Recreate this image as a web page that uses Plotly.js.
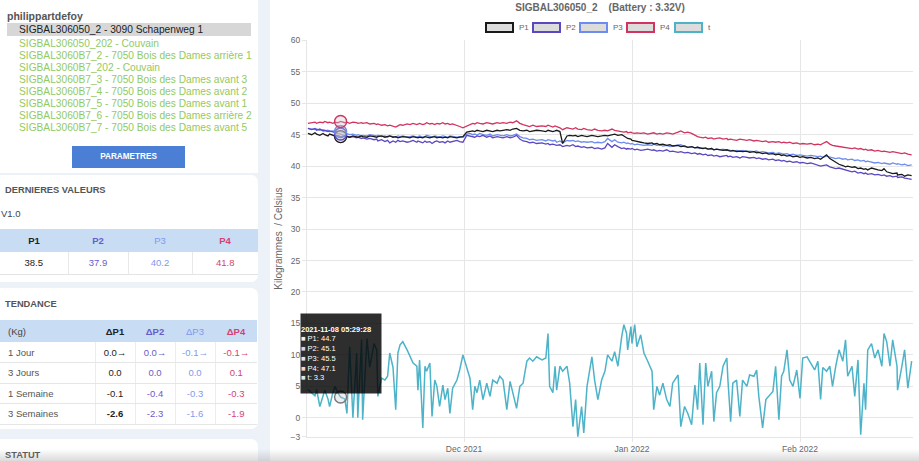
<!DOCTYPE html>
<html><head><meta charset="utf-8">
<script src="https://cdn.plot.ly/plotly-3.0.1.min.js"></script>
<style>
*{box-sizing:border-box}
body{margin:0;width:919px;height:461px;overflow:hidden;background:#edf2f9;font-family:"Liberation Sans",Arial,sans-serif;position:relative;color:#444}
.abs{position:absolute}
.card{position:absolute;left:0;width:258px;background:#fff;border-radius:0 7px 7px 0}
.user{left:7px;top:10px;font-size:10.5px;font-weight:bold;color:#555;line-height:13px}
.sel{left:7px;top:23px;width:244px;height:13px;background:#d7d7d7;font-size:10.2px;line-height:13px;padding-left:12px;color:#222;white-space:nowrap}
.list{left:19px;top:37.5px;font-size:10.2px;line-height:12.05px;color:#92ca62;white-space:nowrap}
.btn{left:72px;top:146px;width:113px;height:22px;background:#4b7fd6;color:#fff;font-size:8.2px;font-weight:bold;text-align:center;line-height:22px}
.h{left:5px;font-size:9.3px;font-weight:bold;color:#555;line-height:12px}
table{position:absolute;left:0;border-collapse:collapse;font-size:9.5px;table-layout:fixed}
td{padding:0;text-align:center;white-space:nowrap}
.hd td{background:#c8dcf4}
.vr td{border-right:1px solid #e8e8e8;border-bottom:1px solid #e4e4e4}
.vr td:last-child{border-right:none}
.tr td{border-bottom:1px solid #e6e6e6;border-right:1px solid #ececec}
.tr td:last-child{border-right:none}
.lbl{text-align:left;padding-left:8px;color:#555}
.c1{color:#222}.c2{color:#6a5cc8}.c3{color:#8299ec}.c4{color:#d63f74}
.b{font-weight:bold}
#chart{position:absolute;left:270px;top:0;width:649px;height:461px;background:#fff}
.shade{position:absolute;left:0;top:449px;width:919px;height:12px;background:linear-gradient(rgba(150,150,150,0),rgba(150,150,150,0.35));pointer-events:none}
</style></head><body>

<div class="card" style="top:0;height:173px;border-radius:0">
  <div class="abs user">philippartdefoy</div>
  <div class="abs sel">SIGBAL306050_2 - 3090 Schapenweg 1</div>
  <div class="abs list">
    SIGBAL306050_202 - Couvain<br>
    SIGBAL3060B7_2 - 7050 Bois des Dames arrière 1<br>
    SIGBAL3060B7_202 - Couvain<br>
    SIGBAL3060B7_3 - 7050 Bois des Dames avant 3<br>
    SIGBAL3060B7_4 - 7050 Bois des Dames avant 2<br>
    SIGBAL3060B7_5 - 7050 Bois des Dames avant 1<br>
    SIGBAL3060B7_6 - 7050 Bois des Dames arrière 2<br>
    SIGBAL3060B7_7 - 7050 Bois des Dames avant 5
  </div>
  <div class="abs btn">PARAMETRES</div>
</div>

<div class="card" style="top:175px;height:107px">
  <div class="abs h" style="top:9px">DERNIERES VALEURS</div>
  <div class="abs" style="left:1px;top:33px;font-size:9.5px;color:#444;line-height:12px">V1.0</div>
  <table style="top:54px;width:258px">
    <colgroup><col style="width:68px"><col style="width:60px"><col style="width:64px"><col style="width:66px"></colgroup>
    <tr class="hd" style="height:23px"><td class="c1 b">P1</td><td class="c2 b">P2</td><td class="c3">P3</td><td class="c4 b">P4</td></tr>
    <tr class="vr" style="height:22px"><td class="c1">38.5</td><td class="c2">37.9</td><td class="c3">40.2</td><td class="c4">41.8</td></tr>
  </table>
</div>

<div class="card" style="top:288px;height:141px">
  <div class="abs h" style="top:10px">TENDANCE</div>
  <table style="top:32px;width:257px">
    <colgroup><col style="width:95px"><col style="width:40px"><col style="width:40px"><col style="width:40px"><col style="width:42px"></colgroup>
    <tr class="hd" style="height:22px"><td class="lbl" style="color:#444">(Kg)</td><td class="c1 b">ΔP1</td><td class="c2 b">ΔP2</td><td class="c3">ΔP3</td><td class="c4 b">ΔP4</td></tr>
    <tr class="tr" style="height:20.5px"><td class="lbl">1 Jour</td><td class="c1">0.0→</td><td class="c2">0.0→</td><td class="c3">-0.1→</td><td class="c4">-0.1→</td></tr>
    <tr class="tr" style="height:20.5px"><td class="lbl">3 Jours</td><td class="c1">0.0</td><td class="c2">0.0</td><td class="c3">0.0</td><td class="c4">0.1</td></tr>
    <tr class="tr" style="height:20.5px"><td class="lbl">1 Semaine</td><td class="c1">-0.1</td><td class="c2">-0.4</td><td class="c3">-0.3</td><td class="c4">-0.3</td></tr>
    <tr class="tr" style="height:20.5px"><td class="lbl">3 Semaines</td><td class="c1 b">-2.6</td><td class="c2">-2.3</td><td class="c3">-1.6</td><td class="c4">-1.9</td></tr>
  </table>
</div>

<div class="card" style="top:439px;height:40px">
  <div class="abs h" style="top:10px">STATUT</div>
</div>

<div id="chart"></div>
<div class="shade"></div>

<script>
// ---- data ----
const startDate = Date.UTC(2021, 10, 2, 0, 0, 0); // 2021-11-02
const dayOffsets = [0.2,0.9,1.5,1.8,2.4,3.0,3.3,3.9,4.2,4.8,
5.2,5.7,6.2288,7.0,7.4,7.9,8.5,9.2,9.4,10.1,
10.3,11.1,11.6,12.4,12.9,13.1,13.8,14.4,14.9,15.3,
15.9,16.4,16.8,17.2,17.7,18.5,19.0,19.6,20.3,20.5,
20.8,21.4,21.8,22.1,22.7,23.1,23.6,24.0,24.5,25.1,
25.5,26.0,26.4,26.9,27.7,28.2,28.8,29.5,30.1,30.6,
31.0,31.4,31.9,32.5,33.2,33.8,34.3,35.1,35.6,36.2,
36.9,37.5,38.0,38.7,39.3,39.9,40.6,41.1,41.7,42.4,
43.4,44.1,44.5,44.8,45.4,45.8,46.1,46.7,47.2,48.0,
48.5,49.1,49.6,50.0,50.7,51.1,51.7,52.6,53.1,53.7,
54.4,55.0,55.5,56.3,56.8,57.4,58.1,58.5,59.0,59.2,
59.8,60.0,60.5,60.9,61.6,62.2,62.9,63.7,64.0,64.6,
65.1,65.7,66.4,67.0,67.5,68.5,69.0,69.7,70.3,71.0,
71.6,72.1,72.5,73.1,73.6,74.0,74.7,75.1,75.6,76.2,
76.8,77.5,77.7,78.2,78.6,79.3,79.9,80.4,81.2,81.7,
82.5,83.0,83.4,84.1,84.7,85.2,86.0,86.5,87.1,87.6,
88.0,88.6,89.1,89.7,90.4,91.0,91.5,92.3,93.0,93.7,
94.3,94.8,95.2,95.9,96.5,97.0,97.6,98.2,98.9,99.4,
99.8,100.6,101.1,101.7,102.2,102.8,103.1,103.5,104.2,104.8,
105.4,106.1,106.5,107.0,107.6,108.1,108.9,109.0,109.8,110.3,
110.9,111.6];

const p1Values = [45.2,45.0,45.3,45.1,44.9,45.2,45.0,44.8,45.1,44.9,
44.8,44.9,44.7,44.8,44.7,44.6,44.8,44.7,44.6,44.8,
44.7,44.6,44.8,44.7,44.6,44.7,44.8,44.6,44.7,44.8,
44.6,44.7,44.5,44.6,44.7,44.6,44.5,44.7,44.6,44.5,
44.6,44.5,44.7,44.6,44.5,44.6,44.7,44.5,44.6,44.5,
44.6,44.5,44.7,44.6,44.5,44.6,44.7,45.4,45.5,45.6,
45.5,45.7,45.6,45.5,45.7,45.6,45.5,45.7,45.6,45.7,
45.8,45.7,45.9,46.0,45.7,45.6,45.7,45.5,45.6,45.7,
45.6,45.5,45.7,45.6,45.5,45.6,45.7,45.5,43.6,44.8,
44.9,44.8,44.9,44.7,44.9,44.8,44.7,44.9,44.8,44.7,
44.8,44.9,44.8,45.0,45.1,44.9,45.0,44.8,44.6,44.4,
44.3,44.1,44.0,43.9,43.8,43.7,43.6,43.7,43.5,43.6,
43.4,43.5,43.3,43.4,43.2,43.3,43.1,43.2,43.0,43.1,
42.9,43.0,42.9,42.8,42.9,42.7,42.8,42.6,42.7,42.6,
42.5,42.6,42.5,42.4,42.5,42.3,42.4,42.3,42.4,42.2,
42.3,42.1,42.2,42.0,42.1,41.9,42.0,41.8,41.9,41.7,
41.8,41.6,41.7,41.5,41.6,41.4,41.5,41.3,41.4,41.2,
41.3,41.1,41.4,41.8,41.2,40.9,40.6,40.3,40.1,39.9,
40.0,39.8,39.9,39.6,39.7,39.5,39.6,39.4,39.7,39.5,
39.4,39.3,39.6,39.1,39.0,38.8,38.9,38.6,38.7,38.4,
38.6,38.5];

const p2Values = [46.0,45.8,46.0,45.7,45.9,45.6,45.7,45.5,45.6,45.4,
45.3,45.2,45.1,44.9,44.8,44.6,44.7,44.5,44.6,44.4,
44.5,44.3,44.4,44.2,44.3,44.0,44.2,43.9,44.1,43.7,
44.0,43.8,44.1,43.9,44.0,43.8,43.9,44.1,43.8,44.0,
43.9,43.7,44.0,43.8,43.9,43.6,43.9,44.0,43.8,43.9,
43.7,44.0,43.8,43.9,44.1,43.9,43.8,44.9,44.8,44.7,
44.6,44.8,44.7,44.9,44.6,44.8,44.5,44.7,44.6,44.5,
44.7,44.5,44.6,44.9,44.3,44.0,43.9,43.7,43.8,43.6,
43.7,43.5,43.6,43.4,43.5,43.4,43.3,43.4,43.1,43.3,
43.2,43.4,43.1,43.2,43.0,43.1,42.9,43.0,42.8,42.9,
42.7,42.9,43.6,43.0,43.4,43.1,42.8,42.9,42.7,42.8,
42.7,42.8,42.6,42.7,42.5,42.6,42.7,42.5,42.6,42.4,
42.5,42.4,42.6,42.3,42.4,42.2,42.3,42.1,42.2,42.0,
42.1,41.9,42.0,41.8,41.9,41.7,41.8,41.6,41.7,41.5,
41.6,41.7,41.5,41.6,41.4,41.5,41.3,41.5,41.4,41.3,
41.4,41.2,41.3,41.1,41.2,41.0,41.1,40.9,41.0,40.8,
40.9,40.7,40.8,40.6,40.7,40.5,40.6,40.4,40.5,40.3,
40.2,40.0,40.1,40.2,39.9,39.8,39.6,39.7,39.5,39.4,
39.3,39.1,39.2,38.9,39.0,38.8,38.9,38.7,38.8,38.6,
38.7,38.5,38.6,38.4,38.5,38.3,38.4,38.2,38.3,38.1,
38.0,37.9];

const p3Values = [46.0,45.9,45.8,45.9,45.7,45.8,45.6,45.7,45.5,45.6,
45.6,45.5,45.5,45.3,45.2,45.0,45.1,44.9,45.0,44.8,
44.9,44.8,45.0,44.9,44.8,44.9,44.7,44.8,44.6,44.8,
44.7,44.6,44.8,44.7,44.8,44.6,44.7,44.8,44.6,44.7,
44.8,44.6,44.7,44.9,44.7,44.6,44.8,44.7,44.6,44.8,
44.7,44.6,44.8,44.7,44.6,44.7,44.6,45.1,45.2,45.0,
45.1,44.9,45.2,45.0,44.9,45.1,44.8,45.0,44.9,44.8,
45.0,44.8,44.9,45.1,44.7,44.5,44.4,44.2,44.3,44.1,
44.2,44.0,44.2,44.1,44.0,44.1,43.8,44.0,43.7,44.1,
44.0,44.1,43.9,44.0,43.8,43.9,43.8,43.9,43.7,43.8,
43.7,43.9,44.4,43.9,44.2,43.8,43.7,43.8,43.6,43.7,
43.5,43.6,43.4,43.5,43.4,43.3,43.4,43.3,43.5,43.3,
43.4,43.2,43.3,43.1,43.2,43.3,43.4,43.1,43.0,43.1,
42.9,43.0,42.8,42.9,42.8,42.7,42.8,42.6,42.7,42.6,
42.7,42.5,42.6,42.5,42.4,42.5,42.4,42.5,42.3,42.4,
42.3,42.4,42.2,42.3,42.2,42.1,42.2,42.0,42.1,42.0,
41.9,42.0,41.8,41.9,41.7,41.8,41.7,41.6,41.7,41.6,
41.5,41.6,41.4,41.6,41.5,41.3,41.2,41.3,41.1,41.2,
41.0,41.1,40.9,41.0,40.8,40.9,40.7,40.8,40.6,40.5,
40.6,40.4,40.5,40.4,40.3,40.5,40.3,40.4,40.2,40.3,
40.1,40.2];

const p4Values = [46.8,46.9,47.0,46.8,47.0,46.9,47.1,46.9,47.0,46.8,
47.0,46.9,47.1,46.9,47.0,46.8,47.0,46.9,46.8,46.9,
46.8,46.9,46.7,46.8,46.6,46.7,46.5,46.6,46.4,46.5,
46.3,46.2,46.4,46.6,46.5,46.7,46.6,46.8,46.6,46.7,
46.8,46.6,46.7,46.9,46.7,46.8,46.6,46.8,46.7,46.9,
46.7,46.8,46.6,46.7,46.5,46.3,46.1,46.4,46.6,46.8,
46.7,46.9,46.8,46.7,46.9,46.8,46.7,46.9,46.8,46.9,
46.8,47.0,46.9,47.2,46.8,46.6,46.4,46.3,46.5,46.3,
46.4,46.3,46.5,46.4,46.2,46.4,46.3,46.1,45.8,46.1,
46.0,45.9,46.1,45.9,45.8,46.0,45.8,45.7,45.9,45.7,
45.6,45.7,45.6,45.9,45.7,45.6,45.5,45.4,45.5,45.3,
45.4,45.3,45.2,45.3,45.2,45.3,45.1,45.2,45.3,45.1,
45.2,45.1,45.3,45.2,45.1,45.4,45.6,45.3,45.4,45.2,
44.9,44.7,44.6,44.5,44.6,44.4,44.5,44.3,44.4,44.5,
44.3,44.4,44.2,44.3,44.2,44.1,44.3,44.2,44.1,44.2,
44.0,44.1,44.0,43.9,44.0,43.8,43.9,43.8,43.9,43.7,
43.8,43.7,43.8,43.6,43.7,43.5,43.6,43.5,43.6,43.4,
43.5,43.4,43.6,43.9,43.5,43.3,43.2,43.1,43.0,43.0,
42.9,42.8,42.9,42.7,42.8,42.6,42.7,42.5,42.6,42.4,
42.5,42.3,42.4,42.3,42.2,42.3,42.1,42.2,42.0,42.1,
41.9,41.8];

const tValues = [4.5,4,3.5,4.5,1.8,3.5,4.4,3,1.8,4,
5,4,3.3,3,0.7,11.3,0,10.3,0,12.4,
-0.3,12.6,8,11.8,10.8,3.4,6.3,6,6.6,10.3,
8,1.3,10.3,11.6,12.1,10.8,9.7,8.7,8.2,4.4,
9.2,-1.6,8.2,7.4,8.7,0.2,6,5,1.8,5.2,
2.9,4.7,0.7,4.7,6,7.6,10,8.2,6.3,1.3,
5,4,6,2.9,5.5,3.4,6,5.5,6.6,6,
1.3,5.8,4,1.5,5,5.5,9,9.5,9,9.7,
9.2,9.5,13.4,5,4,8.2,4.4,8.2,7.4,8.2,
5.5,-1.4,2.9,-3,1.8,-2.4,5,9.7,6,2.9,
6,7.4,10,9,10.5,8.2,12.9,14.8,13.4,10.8,
14.5,11.8,14.8,11.3,13.2,10.3,9,7.4,1.3,5,
3.6,5.5,2.9,1.8,5.5,6.8,-1.4,1.8,0.7,-1.1,
5.2,1.3,8.7,-1.1,8.7,5,7.4,-0.6,4,5,
8.2,9.5,6,-0.6,5.5,6,0.2,6,5,6.8,
6.6,7.6,3.4,-1.6,2.9,3.4,4.2,8.2,-0.3,6.6,
7.4,10.8,6,5,7.6,3.1,9.5,9.7,8.7,7.6,
9,2.9,8,7.4,8.2,5,8.2,10.8,9,12.4,
6.6,8.2,3.4,9.2,-2.7,5.5,1.3,10.8,11.8,9.5,
10.8,8.2,13.4,12.1,8.2,12.4,8.2,4.4,8.2,10.8,
4.7,9];

const seriesNames = ['P1', 'P2', 'P3', 'P4', 't'];
const seriesColors = ['#1a1a1a', '#5b47c2', '#6e8cf0', '#d0345f', '#4db3c9'];
const seriesValues = [p1Values, p2Values, p3Values, p4Values, tValues];
const hoverIndex = 12;
const hoverLabel = '2021-11-08 05:29:28';
const yTickVals = [-3, 0, 5, 10, 15, 20, 25, 30, 35, 40, 45, 50, 55, 60];
const xTickVals = ['2021-12-01', '2022-01-01', '2022-02-01'];
const xTickText = ['Dec 2021', 'Jan 2022', 'Feb 2022'];
const chartTitle = 'SIGBAL306050_2&nbsp;&nbsp;&nbsp; (Battery : 3.32V)';
const yTitle = 'Kilogrammes&nbsp; / Celsius';

// ---- build ----
const toStr = d => new Date(startDate + d * 86400000).toISOString().slice(0, 19).replace('T', ' ');
const times = dayOffsets.map(toStr);

// pixel helpers (plot area in page pixels: x 307..913, y 40..437)
const PL = 307, PR = 913, PT = 40, PB = 437;
const px = x => (x - PL) / (PR - PL);
const py = y => (PB - y) / (PB - PT);

const traces = [];
[4, 3, 2, 1, 0].forEach(i => {
  traces.push({
    type: 'scatter', mode: 'lines', x: times, y: seriesValues[i], name: seriesNames[i],
    line: {color: seriesColors[i], width: i === 4 ? 1.5 : 1.3}, showlegend: false, hoverinfo: 'skip'
  });
});
traces.push({
  type: 'scatter', mode: 'markers',
  x: seriesNames.map(() => times[hoverIndex]),
  y: seriesValues.map(v => v[hoverIndex]),
  marker: {size: 12, color: 'rgba(205,205,205,0.35)',
    line: {width: 1.4, color: seriesColors.map((c, i) => i === 4 ? '#777' : c)}},
  showlegend: false, hoverinfo: 'skip'
});

const shapes = [], annotations = [];
const boxLeft = [486, 533, 580, 627, 675];
seriesNames.forEach((n, i) => {
  shapes.push({type: 'rect', xref: 'paper', yref: 'paper',
    x0: px(boxLeft[i]), x1: px(boxLeft[i] + 27), y0: py(32), y1: py(23),
    fillcolor: '#dcdcdc', line: {color: seriesColors[i], width: 2}});
  annotations.push({xref: 'paper', yref: 'paper', x: px(boxLeft[i] + 31), y: py(27.5),
    xanchor: 'left', yanchor: 'middle', showarrow: false, text: n,
    font: {size: 8, color: '#666'}});
});

const swatch = ['#f2f2f2', '#d9d4f5', '#dfe4fb', '#f6d9c8', '#d4eef3'];
let tip = '<b>' + hoverLabel + '</b>';
seriesNames.forEach((n, i) => {
  tip += '<br><span style="color:' + swatch[i] + '">■</span> ' + n + ': ' + seriesValues[i][hoverIndex];
});
annotations.push({xref: 'paper', yref: 'paper', x: px(300), y: py(313), xanchor: 'left', yanchor: 'top',
  showarrow: false, text: tip, align: 'left', valign: 'middle', width: 80, height: 79,
  bgcolor: 'rgba(0,0,0,0.82)', borderpad: 0, font: {size: 7.5, color: '#fff'}});

const layout = {
  width: 649, height: 461,
  margin: {l: 37, r: 6, t: 40, b: 24, pad: 0},
  paper_bgcolor: '#fff', plot_bgcolor: '#fff',
  font: {family: '"Liberation Sans", Arial, sans-serif', color: '#666'},
  title: {text: '<b>' + chartTitle + '</b>', font: {size: 10, color: '#666'},
    xref: 'container', x: (600 - 270) / 649, xanchor: 'center',
    yref: 'container', y: 1 - 7.5 / 461, yanchor: 'middle'},
  showlegend: false,
  xaxis: {type: 'date', range: [toStr(0.03), toStr(111.85)],
    tickvals: xTickVals, ticktext: xTickText, tickfont: {size: 8.5, color: '#666'},
    showgrid: true, gridcolor: '#e6e6e6', gridwidth: 1, zeroline: false,
    showline: true, linecolor: '#e6e6e6', linewidth: 1,
    ticks: 'outside', ticklen: 4, tickcolor: '#e6e6e6', fixedrange: true},
  yaxis: {range: [-3.05, 60.05], tickvals: yTickVals, tickfont: {size: 8.5, color: '#666'},
    showgrid: true, gridcolor: '#e6e6e6', gridwidth: 1, zeroline: false,
    showline: true, linecolor: '#e6e6e6', linewidth: 1,
    ticks: 'outside', ticklen: 4, tickcolor: '#e6e6e6',
    title: {text: yTitle, font: {size: 10, color: '#666'}, standoff: 6}, fixedrange: true},
  shapes: shapes, annotations: annotations
};

Plotly.newPlot('chart', traces, layout, {staticPlot: true, displayModeBar: false});
</script>
</body></html>
